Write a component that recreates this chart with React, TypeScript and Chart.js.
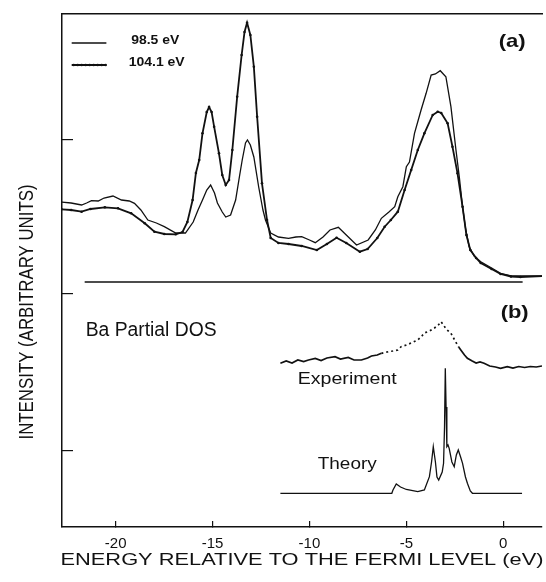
import React, { useEffect, useRef } from "react";
import { Chart, registerables } from "chart.js";

Chart.register(...registerables);

// ---------- Data (energy in eV, intensity in arbitrary units) ----------
const energy985 = [
  -22.8, -22.3, -21.76, -21.5, -21.25, -20.9, -20.6, -20.14, -19.7, -19.3, -19.03, -18.7, -18.34, -17.9,
  -17.49, -16.9, -16.4, -16.0, -15.75, -15.52, -15.3, -15.1, -14.9, -14.75, -14.5, -14.32, -14.07, -13.81,
  -13.6, -13.47, -13.3, -13.2, -13.05, -12.87, -12.62, -12.4, -12.27, -12.0, -11.6, -11.08, -10.7, -10.4,
  -10.0, -9.7, -9.3, -8.94, -8.51, -8.1, -7.57, -6.97, -6.6, -6.29, -5.9, -5.6, -5.44, -5.18, -5.0, -4.84,
  -4.58, -4.24, -3.98, -3.72, -3.5, -3.25, -2.96, -2.7, -2.44, -2.27, -2.1, -1.95, -1.76, -1.5, -1.16, -0.6,
  -0.14, 0.4, 0.89, 2.05,
];
const intensity985 = [
  325, 324, 322, 324, 326.3, 326, 329, 331, 327, 326, 323.7, 317, 307, 304,
  300.3, 294, 294, 305, 317, 327, 337, 342, 334, 324, 315, 310, 312, 327,
  352, 367, 384, 387, 382, 370, 340, 317, 307, 294, 290, 288.7, 290, 290.3,
  287, 284.3, 290, 297, 299.7, 292, 282, 287, 297, 308.7, 315, 320.3, 330.3, 340.3, 360.3, 365,
  393.7, 417, 433.7, 452, 453, 456.3, 450.3, 420.3, 377, 350.3, 320.3, 299, 280.3, 271, 265.3, 259,
  253.7, 251, 251, 251,
];

const energy1041 = [
  -22.8, -22.3, -21.76, -21.3, -20.56, -19.88, -19.2, -18.5, -18.0, -17.49, -16.9, -16.55, -16.3, -16.03,
  -15.86, -15.69, -15.52, -15.3, -15.18, -15.05, -14.92, -14.67, -14.5, -14.32, -14.15, -13.98, -13.73,
  -13.5, -13.35, -13.22, -13.05, -12.87, -12.7, -12.45, -12.19, -12.0, -11.6, -11.08, -10.4, -9.62, -9.1,
  -8.6, -8.1, -7.4, -7.0, -6.5, -6.12, -5.8, -5.44, -5.09, -4.75, -4.41, -4.07, -3.64, -3.38, -3.2, -2.87,
  -2.62, -2.36, -2.1, -1.9, -1.7, -1.4, -1.16, -0.6, -0.14, 0.4, 0.89, 2.05,
];
const intensity1041 = [
  317.7, 317, 315.3, 318, 319.7, 318.7, 313.7, 303.7, 295.3, 293, 292.7, 295, 305, 327,
  354, 367, 393.7, 415, 420, 415, 400.3, 373.7, 352, 342, 347, 377, 430.3,
  472, 495, 504.3, 492, 460.3, 410.3, 343.7, 307, 289, 284, 283, 281, 277, 283,
  289.3, 284, 275.3, 278, 289, 300.3, 307, 315.3, 337, 357, 377, 393.7, 412, 415.3, 414, 403.7,
  380.3, 353.7, 320.3, 292, 277, 269, 264, 258, 253, 250.5, 250, 251,
];

const baselineAEnergy = [-21.6, 1.0];
const baselineAIntensity = [245, 245];

const energyExp = [
  -11.5, -11.2, -10.9, -10.6, -10.3, -10.05, -9.7, -9.4, -9.1, -8.68, -8.4, -8.0, -7.7, -7.32, -7.0, -6.8,
  -6.5, -6.29, -6.0, -5.7, -5.44, -5.27, -5.0, -4.75, -4.41, -4.2, -4.07, -3.8, -3.55, -3.35, -3.21, -3.05,
  -2.95, -2.7, -2.45, -2.3, -2.19, -2.0, -1.85, -1.6, -1.4, -1.2, -0.99, -0.7, -0.4, -0.14, 0.21, 0.5, 0.8,
  1.1, 1.4, 1.7, 2.0,
];
const intensityExp = [
  163.7, 166, 164, 167, 165.5, 167, 168.5, 166.5, 169, 170.3, 168, 169.5, 167, 167, 169, 171,
  172, 173.7, 175, 176, 177, 180.3, 182, 184, 187, 191, 194, 196, 199, 202, 205.3, 201,
  198, 193.7, 185, 180, 177, 172, 168.7, 166, 164, 165, 163.7, 161, 160, 158.7, 160.3, 159, 160.5,
  159.5, 160.5, 160, 161,
];

const energyTheory = [
  -11.5, -5.75, -5.69, -5.52, -5.3, -5.0, -4.41, -4.07, -3.81, -3.7, -3.61, -3.5, -3.42, -3.33, -3.15,
  -3.08, -3.03, -2.99, -2.95, -2.91, -2.85, -2.79, -2.65, -2.53, -2.42, -2.32, -2.2, -2.1, -1.95, -1.85,
  -1.7, -1.59, 0.97,
];
const intensityTheory = [
  33.7, 33.7, 37, 43, 40, 37.5, 35.3, 37, 50.3, 65, 80.3, 65, 50, 47, 55,
  63.7, 100, 158.7, 120, 80.3, 82, 78.7, 65, 60.3, 72, 77, 70, 63.7, 50, 43.7,
  36, 33.7, 33.7,
];

const xTickValues = [-20, -15, -10, -5, 0];
const yTickValues = [76, 233, 387];
const X_MIN = -22.77;
const X_MAX = 2.0;
const Y_MIN = 0;
const Y_MAX = 513;

const seriesNames = ["98.5 eV", "104.1 eV"];
const xTitle = "ENERGY RELATIVE TO THE FERMI LEVEL (eV)";
const yTitle = "INTENSITY (ARBITRARY UNITS)";

// ---------- annotation texts (positions in data coordinates) ----------
const FONT = "'Liberation Sans', Arial, Helvetica, sans-serif";
const annotations = [
  { text: seriesNames[0], e: -19.2, v: 487, size: 13, weight: "bold", width: 48, align: "left" },
  { text: seriesNames[1], e: -19.33, v: 465, size: 13, weight: "bold", width: 56, align: "left" },
  { text: "(a)", e: 0.46, v: 485, size: 19, weight: "bold", width: 27, align: "center" },
  { text: "(b)", e: 0.59, v: 214, size: 19, weight: "bold", width: 28, align: "center" },
  { text: "Ba Partial DOS", e: -21.55, v: 196.5, size: 20, weight: "normal", width: 131, align: "left" },
  { text: "Experiment", e: -8.05, v: 147.6, size: 17, weight: "normal", width: 99, align: "center" },
  { text: "Theory", e: -8.05, v: 63, size: 16.5, weight: "normal", width: 59, align: "center" },
];

const toXY = (xs: number[], ys: number[]) => xs.map((x, i) => ({ x, y: ys[i] }));

const textPlugin = {
  id: "figureTexts",
  afterDraw(chart: any) {
    const ctx = chart.ctx as CanvasRenderingContext2D;
    const xs = chart.scales.x;
    const ys = chart.scales.y;
    const area = chart.chartArea;
    ctx.save();
    ctx.fillStyle = "#111";
    ctx.strokeStyle = "#111";

    for (const t of annotations) {
      const px = xs.getPixelForValue(t.e);
      const py = ys.getPixelForValue(t.v);
      ctx.font = `${t.weight} ${t.size}px ${FONT}`;
      const w = ctx.measureText(t.text).width;
      const sx = t.width / w;
      ctx.save();
      ctx.translate(px, py);
      ctx.scale(sx, 1);
      ctx.textAlign = t.align as CanvasTextAlign;
      ctx.textBaseline = "middle";
      ctx.fillText(t.text, 0, 0);
      ctx.restore();
    }

    // legend samples
    const lx1 = xs.getPixelForValue(-22.27);
    const lx2 = xs.getPixelForValue(-20.48);
    const ly1 = ys.getPixelForValue(484);
    const ly2 = ys.getPixelForValue(462);
    ctx.lineWidth = 1.3;
    ctx.beginPath();
    ctx.moveTo(lx1, ly1);
    ctx.lineTo(lx2, ly1);
    ctx.stroke();
    ctx.lineWidth = 1.8;
    ctx.beginPath();
    ctx.moveTo(lx1, ly2);
    ctx.lineTo(lx2, ly2);
    ctx.stroke();
    for (let x = lx1 + 2; x <= lx2; x += 4) {
      ctx.beginPath();
      ctx.arc(x, ly2, 1.2, 0, Math.PI * 2);
      ctx.fill();
    }

    // x axis title
    ctx.font = `normal 16.5px ${FONT}`;
    let w = ctx.measureText(xTitle).width;
    ctx.save();
    ctx.translate((area.left + area.right) / 2, area.bottom + 33.8);
    ctx.scale(483 / w, 1);
    ctx.textAlign = "center";
    ctx.textBaseline = "middle";
    ctx.fillText(xTitle, 0, 0);
    ctx.restore();

    // y axis title
    ctx.font = `normal 16.8px ${FONT}`;
    w = ctx.measureText(yTitle).width;
    ctx.save();
    ctx.translate(27, 312);
    ctx.rotate(-Math.PI / 2);
    ctx.scale(255 / w, 1.2);
    ctx.textAlign = "center";
    ctx.textBaseline = "middle";
    ctx.fillText(yTitle, 0, 0);
    ctx.restore();

    ctx.restore();
  },
};

export default function App() {
  const canvasRef = useRef<HTMLCanvasElement | null>(null);

  useEffect(() => {
    if (!canvasRef.current) return;
    Chart.defaults.font.family = FONT;
    const chart = new Chart(canvasRef.current, {
      type: "line",
      data: {
        datasets: [
          {
            label: seriesNames[0],
            data: toXY(energy985, intensity985),
            borderColor: "#111",
            borderWidth: 1.3,
            pointRadius: 0,
            tension: 0,
          },
          {
            label: seriesNames[1],
            data: toXY(energy1041, intensity1041),
            borderColor: "#111",
            borderWidth: 1.8,
            pointRadius: 1.3,
            pointBorderWidth: 0,
            pointBackgroundColor: "#111",
            tension: 0,
          },
          {
            label: "baseline (a)",
            data: toXY(baselineAEnergy, baselineAIntensity),
            borderColor: "#111",
            borderWidth: 1.6,
            pointRadius: 0,
          },
          {
            label: "Experiment",
            data: toXY(energyExp, intensityExp),
            borderColor: "#111",
            borderWidth: 1.7,
            pointRadius: 0,
            tension: 0,
            segment: {
              borderDash: (c: any) => {
                const x0 = c.p0.parsed.x;
                return x0 >= -6.4 && x0 < -2.3 ? [2, 3] : undefined;
              },
            },
          },
          {
            label: "Theory",
            data: toXY(energyTheory, intensityTheory),
            borderColor: "#111",
            borderWidth: 1.3,
            pointRadius: 0,
            tension: 0,
          },
        ],
      },
      options: {
        animation: false,
        responsive: false,
        devicePixelRatio: 1,
        layout: { padding: { top: 14, left: 0, right: 1, bottom: 0 } },
        plugins: { legend: { display: false }, tooltip: { enabled: false } },
        events: [],
        scales: {
          x: {
            type: "linear",
            position: "bottom",
            min: X_MIN,
            max: X_MAX,
            afterBuildTicks: (s: any) => {
              s.ticks = xTickValues.map((v) => ({ value: v }));
            },
            afterFit: (s: any) => {
              s.height = 55;
            },
            grid: { drawOnChartArea: false, drawTicks: true, tickLength: -6, color: "#111", lineWidth: 1.2 },
            border: { display: true, color: "#111", width: 1.5 },
            ticks: { color: "#111", font: { size: 15 }, padding: 14, maxRotation: 0, autoSkip: false },
          },
          x2: {
            type: "linear",
            position: "top",
            min: X_MIN,
            max: X_MAX,
            grid: { display: false },
            ticks: { display: false },
            border: { display: true, color: "#111", width: 1.5 },
            afterFit: (s: any) => {
              s.height = 0;
            },
          },
          y: {
            type: "linear",
            min: Y_MIN,
            max: Y_MAX,
            afterBuildTicks: (s: any) => {
              s.ticks = yTickValues.map((v) => ({ value: v }));
            },
            afterFit: (s: any) => {
              s.width = 62;
            },
            grid: { drawOnChartArea: false, drawTicks: true, tickLength: -11, color: "#111", lineWidth: 1.2 },
            border: { display: true, color: "#111", width: 1.5 },
            ticks: { display: false },
          },
        },
      },
      plugins: [textPlugin],
    } as any);
    return () => chart.destroy();
  }, []);

  return (
    <div style={{ position: "fixed", left: 0, top: 0, width: 546, height: 582, background: "#fff" }}>
      <canvas ref={canvasRef} width={546} height={582} style={{ display: "block" }} />
    </div>
  );
}
